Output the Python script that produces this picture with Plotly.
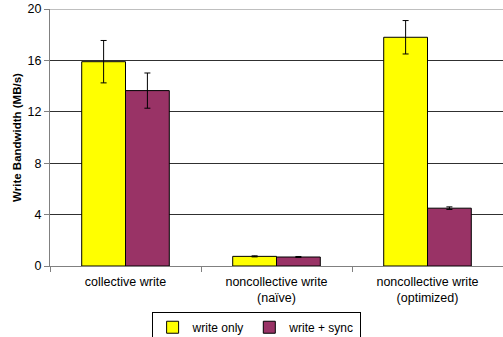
import plotly.graph_objects as go

categories = ["collective write", "noncollective write<br>(naïve)", "noncollective write<br>(optimized)"]
write_only = [15.9, 0.75, 17.8]
write_only_err = [1.65, 0.04, 1.3]
write_sync = [13.65, 0.7, 4.5]
write_sync_err = [1.37, 0.04, 0.1]
yticks = [0, 4, 8, 12, 16, 20]

fig = go.Figure()
fig.add_trace(go.Bar(
    x=categories, y=write_only, name="write only",
    marker=dict(color="#FFFF00", line=dict(color="black", width=1)),
    error_y=dict(type="data", array=write_only_err, color="black", thickness=1, width=3),
))
fig.add_trace(go.Bar(
    x=categories, y=write_sync, name="write + sync",
    marker=dict(color="#993366", line=dict(color="black", width=1)),
    error_y=dict(type="data", array=write_sync_err, color="black", thickness=1, width=3),
))
fig.add_hline(y=yticks[-1], line=dict(color="#808080", width=1), layer="below")

fig.update_layout(
    width=503, height=337,
    margin=dict(l=50, r=0, t=9, b=71, autoexpand=False),
    paper_bgcolor="white", plot_bgcolor="white",
    font=dict(family="Liberation Sans, Arial", size=12, color="black"),
    barmode="group", bargap=0.42, bargroupgap=0,
    showlegend=True,
    legend=dict(orientation="h", x=0.455, xanchor="center", y=-0.178, yanchor="top",
                bordercolor="black", borderwidth=1, font=dict(size=12),
                itemwidth=30, tracegroupgap=0),
    xaxis=dict(
        type="category", showline=True, linecolor="#808080", linewidth=1,
        ticks="outside", tickson="boundaries", ticklen=5, tickcolor="#808080",
        showgrid=False, tickfont=dict(size=12.5), automargin=False, ticklabelstandoff=4,
    ),
    yaxis=dict(
        range=[0, 20], tickvals=yticks, showline=True, linecolor="#808080", linewidth=1,
        ticks="outside", ticklen=5, tickcolor="#808080",
        showgrid=True, gridcolor="#303030", gridwidth=1, zeroline=False,
        title=dict(text="<b>Write Bandwidth (MB/s)</b>", font=dict(size=11.5), standoff=3),
        tickfont=dict(size=12.5), automargin=False,
    ),
)

fig.write_html("out.html", config={"displayModeBar": False},
               post_script="document.body.style.margin='0';")
